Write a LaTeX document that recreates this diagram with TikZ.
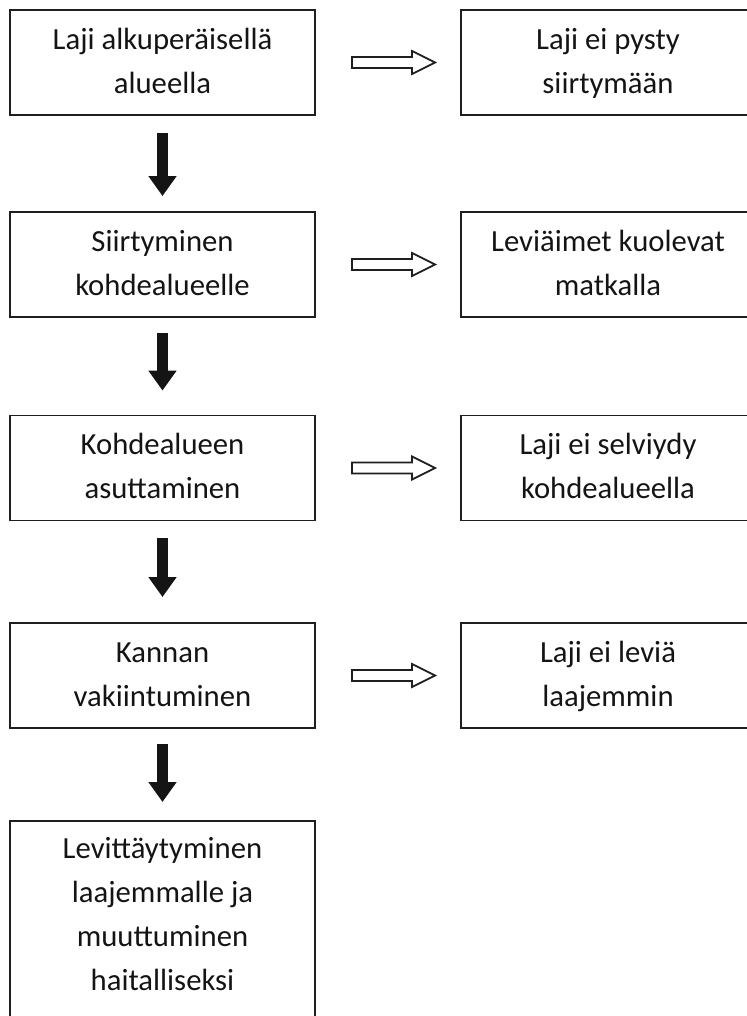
\documentclass[tikz,border=0pt]{standalone}
\usepackage{fontspec}
\setmainfont{Carlito}
\usetikzlibrary{arrows.meta,calc}
\begin{document}
\begin{tikzpicture}[x=1pt,y=-1pt,
  box/.style={draw=black!88, line width=1.9pt, minimum width=305pt, minimum height=105pt,
    inner sep=0pt, align=center, font=\fontsize{30.7}{44}\selectfont, text=black!92},
  rbox/.style={box, minimum width=294pt},
  down/.style={line width=11pt, black!92, -{Triangle[width=27pt,length=20pt]}},
  hollow/.style={draw=black!88, line width=1.8pt, fill=white, line join=miter,
    to path={($(\tikztostart)+(36pt,5.5pt)$) -- ($(\tikztotarget)+(-48pt,5.5pt)$)
      -- ($(\tikztotarget)+(-48pt,11.5pt)$) -- ($(\tikztotarget)+(-25pt,0pt)$)
      -- ($(\tikztotarget)+(-48pt,-11.5pt)$) -- ($(\tikztotarget)+(-48pt,-5.5pt)$)
      -- ($(\tikztostart)+(36pt,-5.5pt)$) -- cycle}}
]
\useasboundingbox (0,0) rectangle (746,1016);

% left column
\node[box] (b1) at (162.5,62.5) {\strut Laji alkuperäisellä\\\strut alueella};
\node[box] (b2) at (162.5,264.5) {\strut Siirtyminen\\\strut kohdealueelle};
\node[box] (b3) at (162.5,468) {\strut Kohdealueen\\\strut asuttaminen};
\node[box] (b4) at (162.5,675.5) {\strut Kannan\\\strut vakiintuminen};
\node[box, anchor=north] (b5) at (162.5,820)
  {\parbox[c][210pt][t]{305pt}{\centering\vspace*{7.2pt}\strut Levittäytyminen\\
   \strut laajemmalle ja\\ \strut muuttuminen\\ \strut haitalliseksi}};

% right column
\node[rbox] (r1) at (608,62.5) {\strut Laji ei pysty\\\strut siirtymään};
\node[rbox] (r2) at (608,264.5) {\strut Leviäimet kuolevat\\\strut matkalla};
\node[rbox] (r3) at (608,468) {\strut Laji ei selviydy\\\strut kohdealueella};
\node[rbox] (r4) at (608,675.5) {\strut Laji ei leviä\\\strut laajemmin};

% down arrows
\draw[down, shorten <=17pt, shorten >=15pt] (b1) -- (b2);
\draw[down, shorten <=15pt, shorten >=24pt] (b2) -- (b3);
\draw[down, shorten <=17pt, shorten >=25pt] (b3) -- (b4);
\draw[down, shorten <=15pt, shorten >=18pt] (b4) -- (b5);

% hollow side arrows
\draw[hollow] (b1.east) to (r1.west);
\draw[hollow] (b2.east) to (r2.west);
\draw[hollow] (b3.east) to (r3.west);
\draw[hollow] (b4.east) to (r4.west);
\end{tikzpicture}
\end{document}
